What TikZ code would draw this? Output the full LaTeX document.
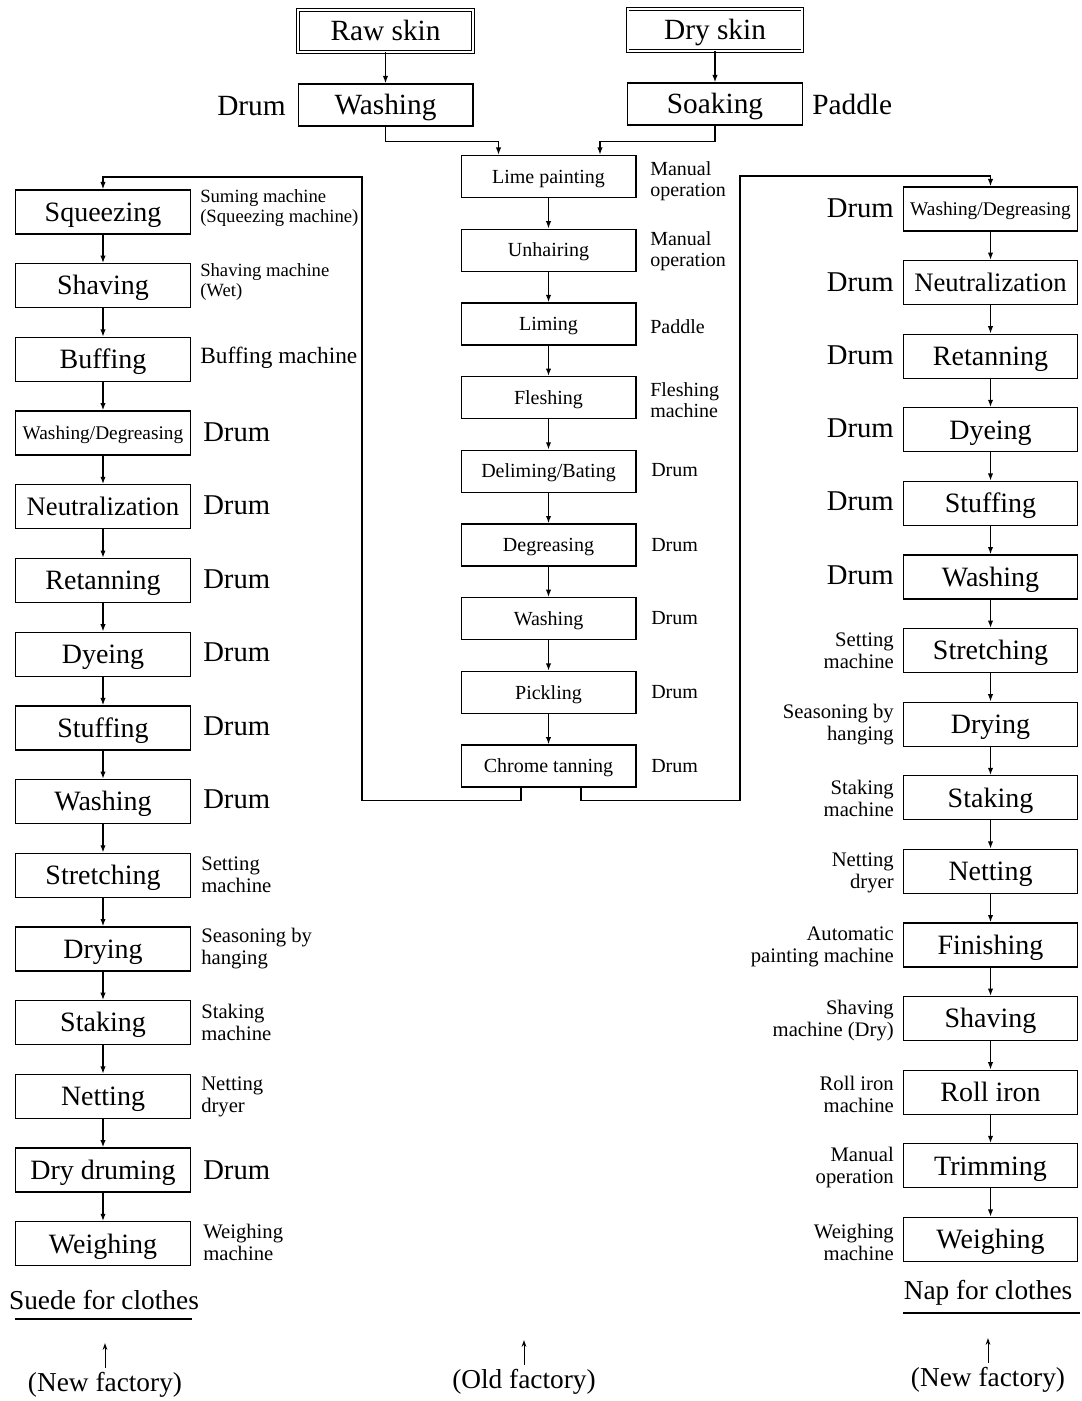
\documentclass[tikz,border=0pt]{standalone}
\usepackage{fontspec}
\setmainfont{Liberation Serif}
\usetikzlibrary{arrows.meta}
\begin{document}
\begin{tikzpicture}[x=0.75pt,y=-0.75pt,
  box/.style={draw, line width=1pt, minimum width=131.5pt, minimum height=33pt, inner sep=0pt, text height=14.2pt, text depth=0.4pt, font=\fontsize{21}{23}\selectfont},
  rbox/.style={box, minimum width=130.5pt},
  cbox/.style={draw, line width=1pt, minimum width=131pt, minimum height=31.5pt, inner sep=0pt, text height=10.2pt, text depth=0.3pt, font=\fontsize{15}{17}\selectfont},
  topbox/.style={draw, line width=1pt, minimum width=131pt, minimum height=31.5pt, inner sep=0pt, text height=14.9pt, text depth=0.4pt, font=\fontsize{22}{24}\selectfont},
  dbox/.style={topbox, double, double distance=1.3pt, line width=0.7pt},
  wdfont/.style={font=\fontsize{14.5}{16}\selectfont, text height=9.9pt, text depth=0.3pt},
  neufont/.style={font=\fontsize{20}{22}\selectfont, text height=13.6pt, text depth=0.4pt},
  lab/.style={inner sep=0pt, align=left, anchor=west, font=\fontsize{15.5}{16.5}\selectfont},
  slab/.style={lab, font=\fontsize{14}{14.5}\selectfont},
  rlab/.style={inner sep=0pt, align=right, anchor=east, font=\fontsize{15.5}{16.5}\selectfont},
  drum/.style={inner sep=0pt, font=\fontsize{21.5}{23}\selectfont},
  clab/.style={lab, font=\fontsize{15}{15.5}\selectfont},
  bottom/.style={inner sep=0pt, font=\fontsize{20.5}{22}\selectfont},
  arr/.style={line width=1pt, -{Latex[length=5.5pt,width=4pt]}},
  ln/.style={line width=1pt}
]
\useasboundingbox (0,0) rectangle (1081,1401);

% ---------- top ----------
\node[dbox] (raw) at (385.5,31) {Raw skin};
\node[dbox] (dry) at (715,30) {Dry skin};
\node[topbox] (wash) at (385.5,105) {Washing};
\node[topbox] (soak) at (715,104) {Soaking};
\node[drum, anchor=east, font=\fontsize{22}{24}\selectfont] (tdrum) at (286,106) {Drum};
\node[drum, anchor=west, font=\fontsize{22}{24}\selectfont] (tpaddle) at (812,104) {Paddle};
\draw[arr] (raw) -- (wash);
\draw[arr] (dry) -- (soak);

% ---------- centre column ----------
\node[cbox] (C1) at (548.5,176.5) {Lime painting};
\node[cbox] (C2) at (548.5,250.2) {Unhairing};
\node[cbox] (C3) at (548.5,323.9) {Liming};
\node[cbox] (C4) at (548.5,397.6) {Fleshing};
\node[cbox] (C5) at (548.5,471.3) {Deliming/Bating};
\node[cbox] (C6) at (548.5,545) {Degreasing};
\node[cbox] (C7) at (548.5,618.7) {Washing};
\node[cbox] (C8) at (548.5,692.4) {Pickling};
\node[cbox] (C9) at (548.5,766.1) {Chrome tanning};
\foreach \i in {1,...,8}{\pgfmathtruncatemacro\j{\i+1}\draw[arr] (C\i) -- (C\j);}

\node[clab] (c1) at (650,181) {Manual\\operation};
\node[clab] (c2) at (650,251) {Manual\\operation};
\node[clab] (c3) at (650,327) {Paddle};
\node[clab] (c4) at (650,400) {Fleshing\\machine};
\node[clab] (c5) at (651,470) {Drum};
\node[clab] (c6) at (651,545) {Drum};
\node[clab] (c7) at (651,618) {Drum};
\node[clab] (c8) at (651,692) {Drum};
\node[clab] (c9) at (651,766) {Drum};

\draw[arr] (wash.south) -- ++(0,15) -| ([xshift=-37.5pt]C1.north);
\draw[arr] (soak.south) -- ++(0,16) -| ([xshift=38.6pt]C1.north);

% ---------- left column ----------
\node[box] (L1) at (103,212) {Squeezing};
\node[box] (L2) at (103,285.7) {Shaving};
\node[box] (L3) at (103,359.4) {Buffing};
\node[box, wdfont] (L4) at (103,433.1) {Washing/Degreasing};
\node[box, neufont] (L5) at (103,506.8) {Neutralization};
\node[box] (L6) at (103,580.5) {Retanning};
\node[box] (L7) at (103,654.2) {Dyeing};
\node[box] (L8) at (103,727.9) {Stuffing};
\node[box] (L9) at (103,801.6) {Washing};
\node[box] (L10) at (103,875.3) {Stretching};
\node[box] (L11) at (103,949) {Drying};
\node[box] (L12) at (103,1022.7) {Staking};
\node[box] (L13) at (103,1096.4) {Netting};
\node[box] (L14) at (103,1170.1) {Dry druming};
\node[box] (L15) at (103,1243.8) {Weighing};
\foreach \i in {1,...,14}{\pgfmathtruncatemacro\j{\i+1}\draw[arr] (L\i) -- (L\j);}

\node[slab] (l1) at (200,208) {Suming machine\\(Squeezing machine)};
\node[slab] (l2) at (200,282) {Shaving machine\\(Wet)};
\node[lab, font=\fontsize{17.5}{19}\selectfont] (l3) at (200,358) {Buffing machine};
\node[drum, anchor=west] (l4) at (203,432) {Drum};
\node[drum, anchor=west] (l5) at (203,505) {Drum};
\node[drum, anchor=west] (l6) at (203,579) {Drum};
\node[drum, anchor=west] (l7) at (203,652) {Drum};
\node[drum, anchor=west] (l8) at (203,726) {Drum};
\node[drum, anchor=west] (l9) at (203,799) {Drum};
\node[lab] (l10) at (201,875) {Setting\\machine};
\node[lab] (l11) at (201,949) {Seasoning by\\hanging};
\node[lab] (l12) at (201,1022) {Staking\\machine};
\node[lab] (l13) at (201,1097) {Netting\\dryer};
\node[drum, anchor=west] (l14) at (203,1170) {Drum};
\node[lab] (l15) at (203,1242) {Weighing\\machine};

% ---------- right column ----------
\node[rbox, wdfont] (R1) at (990.5,209) {Washing/Degreasing};
\node[rbox, neufont] (R2) at (990.5,282.6) {Neutralization};
\node[rbox] (R3) at (990.5,356.2) {Retanning};
\node[rbox] (R4) at (990.5,429.8) {Dyeing};
\node[rbox] (R5) at (990.5,503.4) {Stuffing};
\node[rbox] (R6) at (990.5,577) {Washing};
\node[rbox] (R7) at (990.5,650.6) {Stretching};
\node[rbox] (R8) at (990.5,724.2) {Drying};
\node[rbox] (R9) at (990.5,797.8) {Staking};
\node[rbox] (R10) at (990.5,871.4) {Netting};
\node[rbox] (R11) at (990.5,945) {Finishing};
\node[rbox] (R12) at (990.5,1018.6) {Shaving};
\node[rbox] (R13) at (990.5,1092.2) {Roll iron};
\node[rbox] (R14) at (990.5,1165.8) {Trimming};
\node[rbox] (R15) at (990.5,1239.4) {Weighing};
\foreach \i in {1,...,14}{\pgfmathtruncatemacro\j{\i+1}\draw[arr] (R\i) -- (R\j);}

\node[drum, anchor=east] (r1) at (894,208) {Drum};
\node[drum, anchor=east] (r2) at (894,282) {Drum};
\node[drum, anchor=east] (r3) at (894,355) {Drum};
\node[drum, anchor=east] (r4) at (894,428) {Drum};
\node[drum, anchor=east] (r5) at (894,501) {Drum};
\node[drum, anchor=east] (r6) at (894,575) {Drum};
\node[rlab] (r7) at (894,651) {Setting\\machine};
\node[rlab] (r8) at (894,725) {Seasoning by\\hanging};
\node[rlab] (r9) at (894,798) {Staking\\machine};
\node[rlab] (r10) at (894,873) {Netting\\dryer};
\node[rlab] (r11) at (894,947) {Automatic\\painting machine};
\node[rlab] (r12) at (894,1021) {Shaving\\machine (Dry)};
\node[rlab] (r13) at (894,1094) {Roll iron\\machine};
\node[rlab] (r14) at (894,1168) {Manual\\operation};
\node[rlab] (r15) at (894,1242) {Weighing\\machine};

% ---------- chrome tanning to both columns ----------
\coordinate (lturn) at (362,177);
\coordinate (rturn) at (740,176);
\draw[arr] ([xshift=-20.6pt]C9.south) -- ++(0,13) -| (lturn) -| (L1.north);
\draw[arr] ([xshift=24.4pt]C9.south) -- ++(0,13) -| (rturn) -| (R1.north);

% ---------- bottom ----------
\node[bottom] (suede) at (104,1300) {Suede for clothes};
\draw[ln] (15,1319) -- (192,1319);
\node[bottom] (nf1) at (105,1385) {(New factory)};
\draw[line width=0.7pt, -{Stealth[length=5pt,width=3.5pt]}] ([yshift=3pt]nf1.north) -- ++(0,-25);

\node[bottom] (of) at (524,1382) {(Old factory)};
\draw[line width=0.7pt, -{Stealth[length=5pt,width=3.5pt]}] ([yshift=3pt]of.north) -- ++(0,-25);

\node[bottom] (nap) at (988,1293) {Nap for clothes};
\draw[ln] (903,1313) -- (1080,1313);
\node[bottom] (nf2) at (988,1380) {(New factory)};
\draw[line width=0.7pt, -{Stealth[length=5pt,width=3.5pt]}] ([yshift=3pt]nf2.north) -- ++(0,-25);
\end{tikzpicture}
\end{document}
